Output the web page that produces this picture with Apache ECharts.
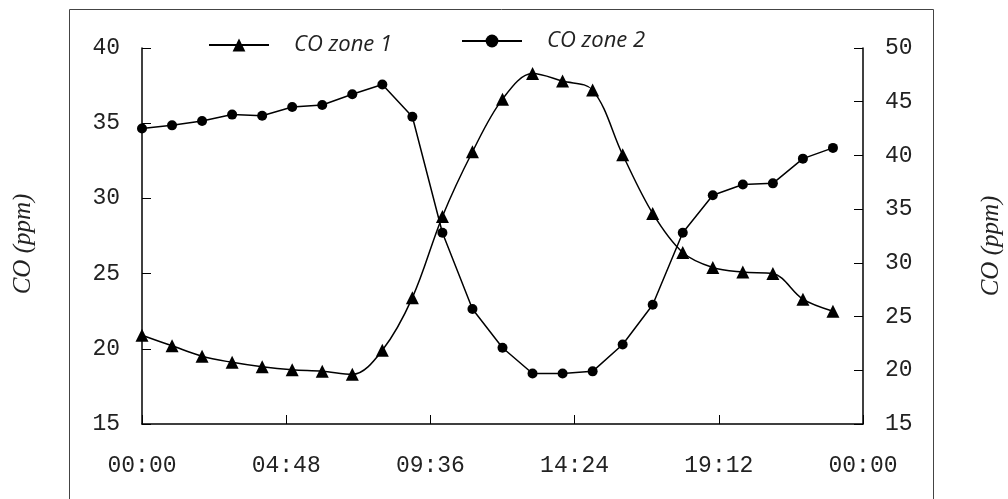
<!DOCTYPE html>
<html>
<head>
<meta charset="utf-8">
<script src="https://cdn.jsdelivr.net/npm/echarts@6/dist/echarts.min.js"></script>
<style>html,body{margin:0;padding:0;background:#fff;}#c{width:1008px;height:499px;}</style>
</head>
<body>
<div id="c"></div>
<script>
// Hours of measurement (00:00 .. 23:00)
var hours = [0,1,2,3,4,5,6,7,8,9,10,11,12,13,14,15,16,17,18,19,20,21,22,23];
// CO zone 1 (left axis, ppm)
var zone1 = [20.9,20.2,19.5,19.1,18.8,18.6,18.5,18.3,19.9,23.4,28.8,33.1,36.6,38.3,37.8,37.2,32.9,29.0,26.4,25.4,25.1,25.0,23.3,22.5];
// CO zone 2 (right axis, ppm)
var zone2 = [42.5,42.8,43.2,43.8,43.7,44.5,44.7,45.7,46.6,43.6,32.8,25.7,22.1,19.7,19.7,19.9,22.4,26.1,32.8,36.3,37.3,37.4,39.7,40.7];
// X tick labels (every 4.8 h)
var xTickLabels = ['00:00','04:48','09:36','14:24','19:12','00:00'];
var seriesNames = ['CO zone 1','CO zone 2'];
var axisTitle = 'CO (ppm)';

var chart = echarts.init(document.getElementById('c'), null, {renderer:'canvas'});
var tickFont = {fontFamily:'Liberation Mono', fontSize:23, color:'#222'};
var legendText = {fontFamily:'Open Sans', fontStyle:'italic', fontSize:22, color:'#222', padding:[0,0,0,20]};
var axisLineStyle = {color:'#000', width:1.5};

chart.setOption({
  animation:false,
  backgroundColor:'#fff',
  grid:{left:142, right:145, top:48, bottom:75, containLabel:false},
  legend:[
    {data:[seriesNames[0]], left:208, top:34, padding:0, itemWidth:60, itemHeight:16, textStyle:legendText},
    {data:[seriesNames[1]], left:461, top:30, padding:0, itemWidth:60, itemHeight:16, textStyle:legendText}
  ],
  xAxis:{
    type:'value', min:0, max:24, interval:4.8,
    axisLine:{show:true, lineStyle:axisLineStyle},
    axisTick:{show:true, inside:true, length:9, lineStyle:{color:'#000', width:1}},
    splitLine:{show:false},
    axisLabel:Object.assign({margin:30, formatter:function(v){return xTickLabels[Math.round(v/4.8)];}}, tickFont)
  },
  yAxis:[
    {type:'value', min:15, max:40, interval:5, position:'left',
     axisLine:{show:true, lineStyle:axisLineStyle},
     axisTick:{show:true, inside:true, length:9, lineStyle:{color:'#000', width:1}},
     splitLine:{show:false},
     axisLabel:Object.assign({margin:22, padding:[10,0,0,0]}, tickFont)},
    {type:'value', min:15, max:50, interval:5, position:'right',
     axisLine:{show:true, lineStyle:axisLineStyle},
     axisTick:{show:true, inside:true, length:9, lineStyle:{color:'#000', width:1}},
     splitLine:{show:false},
     axisLabel:Object.assign({margin:22, padding:[10,0,0,0]}, tickFont)}
  ],
  series:[
    {name:seriesNames[0], type:'line', yAxisIndex:0, smooth:0.35,
     data:hours.map(function(h,i){return [h, zone1[i]];}),
     symbol:'triangle', symbolSize:13,
     lineStyle:{color:'#000', width:1.5}, itemStyle:{color:'#000'}},
    {name:seriesNames[1], type:'line', yAxisIndex:1, smooth:false,
     data:hours.map(function(h,i){return [h, zone2[i]];}),
     symbol:'circle', symbolSize:10,
     lineStyle:{color:'#000', width:1.5}, itemStyle:{color:'#000'}}
  ],
  graphic:[
    {type:'rect', shape:{x:69.5, y:9.5, width:864, height:540}, style:{fill:'none', stroke:'#444', lineWidth:1}, silent:true},
    {type:'text', x:23, y:244, rotation:Math.PI/2, style:{text:axisTitle, font:'italic 25px "Liberation Serif"', fill:'#222', align:'center', verticalAlign:'middle'}},
    {type:'text', x:991, y:246, rotation:Math.PI/2, style:{text:axisTitle, font:'italic 25px "Liberation Serif"', fill:'#222', align:'center', verticalAlign:'middle'}}
  ]
});
</script>
</body>
</html>
